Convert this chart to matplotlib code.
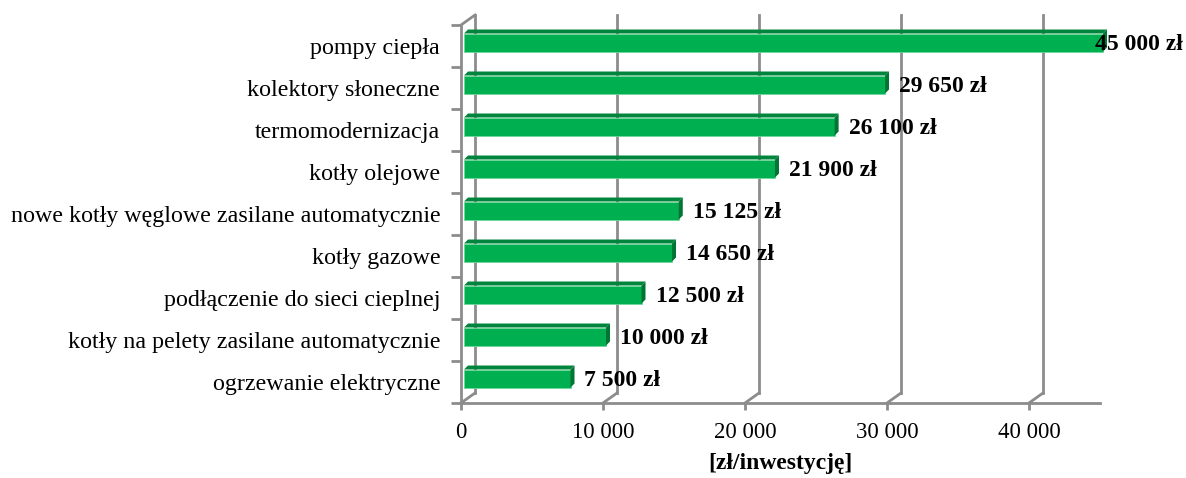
import matplotlib.pyplot as plt
import matplotlib.transforms as mtransforms
from matplotlib.patches import Polygon
import numpy as np

plt.rcParams['font.family'] = ['Liberation Serif', 'DejaVu Serif']

# data (bottom -> top)
categories = ["ogrzewanie elektryczne",
              "kotły na pelety zasilane automatycznie",
              "podłączenie do sieci cieplnej",
              "kotły gazowe",
              "nowe kotły węglowe zasilane automatycznie",
              "kotły olejowe",
              "termomodernizacja",
              "kolektory słoneczne",
              "pompy ciepła"]
values = [7500, 10000, 12500, 14650, 15125, 21900, 26100, 29650, 45000]
xticks = [0, 10000, 20000, 30000, 40000]
xticklabels = ["0", "10 000", "20 000", "30 000", "40 000"]

W, H = 1186, 478
fig = plt.figure(figsize=(W / 100, H / 100), dpi=100)
ax = fig.add_axes([461 / W, (H - 403) / H, 639 / W, 378 / H])
xmax = 45000
ax.set_xlim(0, xmax)
ax.set_ylim(-0.5, len(categories) - 0.5)

# pixel -> data unit helpers
pos = ax.get_position()
ppx = pos.width * W / xmax
ppy = pos.height * H / len(categories)
def dxp(p):
    return p / ppx
def dyp(p):
    return p / ppy

grid_c = "#8c8c8c"
back = mtransforms.offset_copy(ax.transData, fig, x=14, y=10, units='dots')
y0, y1 = -0.5, len(categories) - 0.5

# back wall gridlines + left back wall
for xv in xticks:
    ax.plot([xv, xv], [y0, y1], color=grid_c, lw=2, transform=back, clip_on=False, zorder=1)
    # floor diagonals
    ax.plot([xv, xv + dxp(14)], [y0, y0 + dyp(10)], color=grid_c, lw=2, clip_on=False, zorder=1)
ax.plot([0, dxp(14)], [y1, y1 + dyp(10)], color=grid_c, lw=2, clip_on=False, zorder=1)

# bars (3d look)
front_c, top_c, side_c = "#00b050", "#00863c", "#007534"
bh = dyp(18)
ox, oy = dxp(3), dyp(3.5)
d_x, d_y = dxp(4), dyp(4)
for i, v in enumerate(values):
    xl, xr = ox, v + ox
    yb = i - bh / 2 + oy
    yt = i + bh / 2 + oy
    ax.add_patch(Polygon([[xl, yb], [xr, yb], [xr, yt], [xl, yt]], closed=True,
                         facecolor=front_c, edgecolor="#6fd69a", lw=0.6, zorder=3, clip_on=False))
    ax.add_patch(Polygon([[xl, yt], [xr, yt], [xr + d_x, yt + d_y], [xl + d_x, yt + d_y]], closed=True,
                         facecolor=top_c, edgecolor="none", zorder=3, clip_on=False))
    ax.add_patch(Polygon([[xr, yb], [xr + d_x, yb + d_y], [xr + d_x, yt + d_y], [xr, yt]], closed=True,
                         facecolor=side_c, edgecolor="none", zorder=3, clip_on=False))
    label = f"{v:,} zł".replace(",", " ")
    if v == max(values):
        ax.text(0.997, i + dyp(1), label,
                transform=mtransforms.blended_transform_factory(fig.transFigure, ax.transData),
                ha='right', va='center', fontsize=17, fontweight='bold', zorder=5)
    else:
        ax.annotate(label, (xr + d_x, i), xytext=(10, 1), textcoords='offset pixels',
                    ha='left', va='center', fontsize=17, fontweight='bold', zorder=5)

# axes styling
for s in ['top', 'right']:
    ax.spines[s].set_visible(False)
for s in ['left', 'bottom']:
    ax.spines[s].set_color(grid_c)
    ax.spines[s].set_linewidth(2)
    ax.spines[s].set_zorder(2)

ax.set_yticks(range(len(categories)))
ax.set_yticklabels(categories, fontsize=17.3)
ax.set_yticks(np.arange(-0.5, len(categories)), minor=True)
ax.tick_params(axis='y', which='major', length=0, pad=15)
ax.tick_params(axis='y', which='minor', length=7, width=2, color=grid_c)
ax.set_xticks(xticks)
ax.set_xticklabels(xticklabels, fontsize=16.5)
ax.tick_params(axis='x', length=5, width=2, color=grid_c, pad=9)
ax.set_xlabel("[zł/inwestycję]", fontsize=17, fontweight='bold', labelpad=7)

fig.savefig("out.png", dpi=100)
